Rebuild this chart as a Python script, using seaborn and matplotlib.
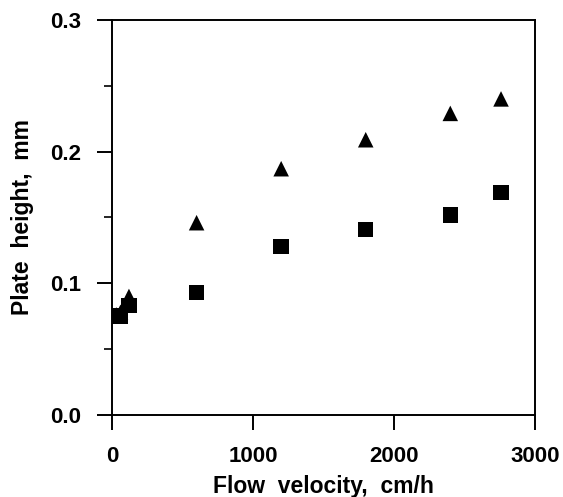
import numpy as np
import pandas as pd
import seaborn as sns
import matplotlib.pyplot as plt
from matplotlib.ticker import MultipleLocator, FormatStrFormatter

# data
velocity = [30, 60, 120, 600, 1200, 1800, 2400, 2760]
h_square = [0.075, 0.075, 0.083, 0.093, 0.128, 0.141, 0.152, 0.169]
h_triangle = [0.076, 0.078, 0.090, 0.146, 0.187, 0.209, 0.229, 0.240]

sns.set_style("ticks")
plt.rcParams['font.family'] = ['Liberation Sans', 'DejaVu Sans']
plt.rcParams['font.weight'] = 'bold'
plt.rcParams['text.color'] = 'black'
plt.rcParams['axes.labelcolor'] = 'black'
plt.rcParams['xtick.color'] = 'black'
plt.rcParams['ytick.color'] = 'black'

df = pd.DataFrame({
    'v': velocity * 2,
    'h': h_triangle + h_square,
    'set': ['tri'] * len(velocity) + ['sq'] * len(velocity),
})

fig = plt.figure(figsize=(5.63, 4.97), dpi=100)
ax = fig.add_axes([0.199, 0.165, 0.751, 0.795])

sns.scatterplot(data=df, x='v', y='h', style='set',
                markers={'tri': '^', 'sq': 's'},
                color='black', edgecolor='black', linewidth=0,
                s=125, legend=False, ax=ax, zorder=3)

ax.set_xlim(0, 3000)
ax.set_ylim(0, 0.3)
ax.xaxis.set_major_locator(MultipleLocator(1000))
ax.yaxis.set_major_locator(MultipleLocator(0.1))
ax.yaxis.set_minor_locator(MultipleLocator(0.05))
ax.yaxis.set_major_formatter(FormatStrFormatter('%.1f'))

ax.tick_params(axis='both', which='major', direction='out', length=11,
               width=1.4, labelsize=16, color='black', labelcolor='black')
ax.tick_params(axis='y', which='minor', direction='out', length=5.5, width=1.2)
ax.tick_params(axis='x', pad=11)
ax.tick_params(axis='y', pad=11)

for sp in ax.spines.values():
    sp.set_visible(True)
    sp.set_linewidth(1.4)
    sp.set_color('black')

ax.set_xlabel('Flow  velocity,  cm/h', fontsize=16.5, fontweight='bold',
              labelpad=6, color='black')
ax.set_ylabel('Plate  height,  mm', fontsize=16.5, fontweight='bold',
              labelpad=12, color='black')

fig.savefig('out.png', dpi=100)
